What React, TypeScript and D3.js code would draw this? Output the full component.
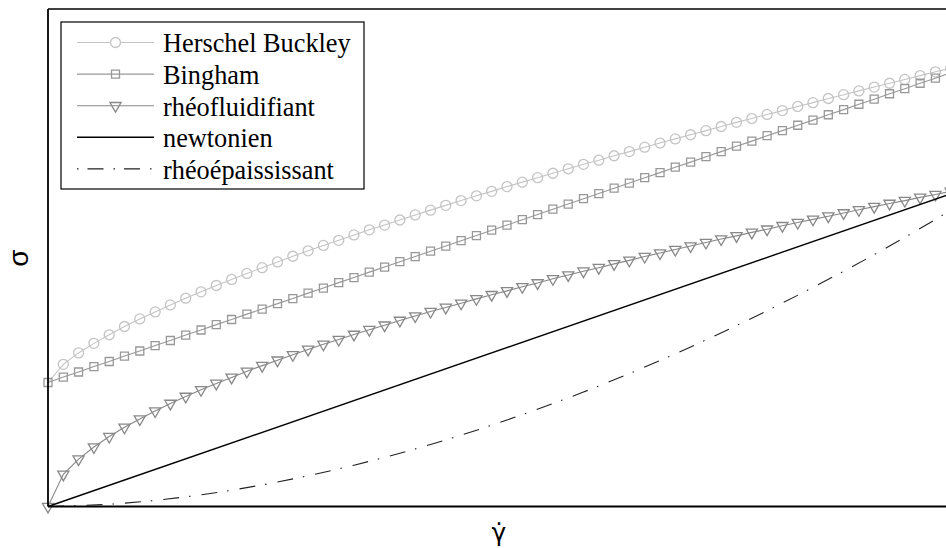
import React from "react";
import * as d3 from "d3";

// shear rate (γ̇) sample points
const gamma = [0, 0.0167, 0.0333, 0.05, 0.0667, 0.0833, 0.1, 0.1167, 0.1333, 0.15, 0.1667, 0.1833, 0.2, 0.2167, 0.2333, 0.25, 0.2667, 0.2833, 0.3, 0.3167, 0.3333, 0.35, 0.3667, 0.3833, 0.4, 0.4167, 0.4333, 0.45, 0.4667, 0.4833, 0.5, 0.5167, 0.5333, 0.55, 0.5667, 0.5833, 0.6, 0.6167, 0.6333, 0.65, 0.6667, 0.6833, 0.7, 0.7167, 0.7333, 0.75, 0.7667, 0.7833, 0.8, 0.8167, 0.8333, 0.85, 0.8667, 0.8833, 0.9, 0.9167, 0.9333, 0.95, 0.9667, 0.9833, 1];

const herschelBuckley = [0.390, 0.447, 0.483, 0.513, 0.540, 0.566, 0.590, 0.612, 0.634, 0.655, 0.675, 0.695, 0.714, 0.733, 0.751, 0.769, 0.787, 0.804, 0.821, 0.837, 0.854, 0.870, 0.885, 0.901, 0.917, 0.932, 0.947, 0.962, 0.977, 0.991, 1.006, 1.020, 1.034, 1.048, 1.062, 1.076, 1.089, 1.103, 1.116, 1.130, 1.143, 1.156, 1.169, 1.182, 1.195, 1.208, 1.220, 1.233, 1.245, 1.258, 1.270, 1.283, 1.295, 1.307, 1.319, 1.331, 1.343, 1.355, 1.367, 1.378, 1.390];

const bingham = [0.390, 0.407, 0.423, 0.440, 0.456, 0.473, 0.489, 0.506, 0.522, 0.539, 0.555, 0.572, 0.588, 0.605, 0.621, 0.638, 0.654, 0.671, 0.687, 0.704, 0.720, 0.737, 0.753, 0.770, 0.786, 0.803, 0.819, 0.836, 0.852, 0.869, 0.885, 0.902, 0.918, 0.935, 0.951, 0.968, 0.984, 1.001, 1.017, 1.034, 1.050, 1.067, 1.083, 1.100, 1.116, 1.133, 1.149, 1.166, 1.182, 1.199, 1.215, 1.232, 1.248, 1.265, 1.281, 1.298, 1.314, 1.331, 1.347, 1.364, 1.380];

const rheofluidifiant = [0, 0.101, 0.149, 0.187, 0.220, 0.249, 0.275, 0.300, 0.324, 0.346, 0.367, 0.387, 0.406, 0.425, 0.443, 0.460, 0.477, 0.494, 0.510, 0.525, 0.541, 0.556, 0.570, 0.585, 0.599, 0.613, 0.626, 0.639, 0.653, 0.666, 0.678, 0.691, 0.703, 0.716, 0.728, 0.740, 0.751, 0.763, 0.774, 0.786, 0.797, 0.808, 0.819, 0.830, 0.841, 0.851, 0.862, 0.872, 0.883, 0.893, 0.903, 0.913, 0.923, 0.933, 0.943, 0.953, 0.962, 0.972, 0.981, 0.991, 1.000];

const newtonienX = [0, 1];
const newtonien = [0, 1];

const epaisX = [0, 0.0833, 0.1667, 0.25, 0.3333, 0.4167, 0.5, 0.5833, 0.6667, 0.75, 0.8333, 0.9167, 1];
const rheoepaississant = [0, 0.0104, 0.0368, 0.077, 0.130, 0.195, 0.272, 0.360, 0.459, 0.569, 0.689, 0.819, 0.96];

const legendLabels = ["Herschel Buckley", "Bingham", "rhéofluidifiant", "newtonien", "rhéoépaississant"];

const W = 946;
const H = 548;
const left = 48;
const top = 9;
const bottom = 506.5;

export default function App() {
  const x = d3.scaleLinear().domain([0, 1]).range([left, 966]);
  const y = d3.scaleLinear().domain([0, 1.5645]).range([bottom, top]);

  const lineXY = (xs: number[], ys: number[], curve: any = d3.curveLinear) =>
    d3.line<number>().x((_, i) => x(xs[i])).y((v) => y(v)).curve(curve)(ys) || "";

  const circle = d3.symbol().type(d3.symbolCircle).size(Math.PI * 25)() || "";
  const square = d3.symbol().type(d3.symbolSquare).size(64)() || "";
  const tri = d3.symbol().type(d3.symbolTriangle).size(54)() || "";

  const cHB = "#c4c4c4";
  const cBing = "#989898";
  const cPL = "#888888";
  const mw = 1.3;

  const legendRowY = (i: number) => 42.5 + 31.6 * i;

  return (
    <svg width={W} height={H} style={{ position: "absolute", left: 0, top: 0, background: "#fff" }}>
      <rect x={0} y={0} width={W} height={H} fill="#fff" />
      {/* Herschel Buckley */}
      <path d={lineXY(gamma, herschelBuckley)} fill="none" stroke={cHB} strokeWidth={1.1} />
      {herschelBuckley.map((v, i) =>
        i === 0 ? null : (
          <path key={"hb" + i} d={circle} transform={`translate(${x(gamma[i])},${y(v)})`} fill="none" stroke={cHB} strokeWidth={mw} />
        )
      )}
      {/* Bingham */}
      <path d={lineXY(gamma, bingham)} fill="none" stroke={cBing} strokeWidth={1.1} />
      {bingham.map((v, i) => (
        <path key={"b" + i} d={square} transform={`translate(${x(gamma[i])},${y(v)})`} fill="none" stroke={cBing} strokeWidth={mw} />
      ))}
      {/* rhéofluidifiant */}
      <path d={lineXY(gamma, rheofluidifiant)} fill="none" stroke={cPL} strokeWidth={1.1} />
      {rheofluidifiant.map((v, i) => (
        <path key={"p" + i} d={tri} transform={`translate(${x(gamma[i])},${y(v)}) rotate(180)`} fill="none" stroke={cPL} strokeWidth={mw} />
      ))}
      {/* newtonien */}
      <path d={lineXY(newtonienX, newtonien)} fill="none" stroke="#000" strokeWidth={1.4} />
      {/* rhéoépaississant */}
      <path d={lineXY(epaisX, rheoepaississant, d3.curveMonotoneX)} fill="none" stroke="#222" strokeWidth={1.1} strokeDasharray="16,10,1.5,11" />

      {/* axes frame */}
      <line x1={left} x2={W} y1={top} y2={top} stroke="#000" strokeWidth={1.5} />
      <line x1={left} x2={left} y1={top} y2={bottom} stroke="#000" strokeWidth={1.8} />
      <line x1={left} x2={W} y1={bottom} y2={bottom} stroke="#000" strokeWidth={1.8} />

      {/* axis labels */}
      <text x={499} y={541} textAnchor="middle" fontFamily="DejaVu Sans, sans-serif" fontSize={25}>γ̇</text>
      <text transform="translate(28,258) rotate(-90)" textAnchor="middle" fontFamily="Liberation Sans, Arial, sans-serif" fontSize={28}>σ</text>

      {/* legend */}
      <rect x={61} y={22} width={303} height={167} fill="#fff" stroke="#000" strokeWidth={1.2} />
      {legendLabels.map((lab, i) => {
        const ly = legendRowY(i);
        const styles = [
          { stroke: cHB, dash: undefined, w: 1.1, m: circle, rot: 0 },
          { stroke: cBing, dash: undefined, w: 1.1, m: square, rot: 0 },
          { stroke: cPL, dash: undefined, w: 1.1, m: tri, rot: 180 },
          { stroke: "#000", dash: undefined, w: 1.4, m: null, rot: 0 },
          { stroke: "#222", dash: "1.5,9,16,10", w: 1.1, m: null, rot: 0 },
        ][i];
        return (
          <g key={lab}>
            <line x1={77} x2={154} y1={ly} y2={ly} stroke={styles.stroke} strokeWidth={styles.w} strokeDasharray={styles.dash} />
            {styles.m ? (
              <path d={styles.m} transform={`translate(115.5,${ly}) rotate(${styles.rot})`} fill={i === 0 ? "#fff" : "none"} stroke={styles.stroke} strokeWidth={mw} />
            ) : null}
            <text x={163} y={ly + 9.8} fontFamily="Liberation Serif, Times New Roman, serif" fontSize={26.3} fill="#000">{lab}</text>
          </g>
        );
      })}
    </svg>
  );
}
